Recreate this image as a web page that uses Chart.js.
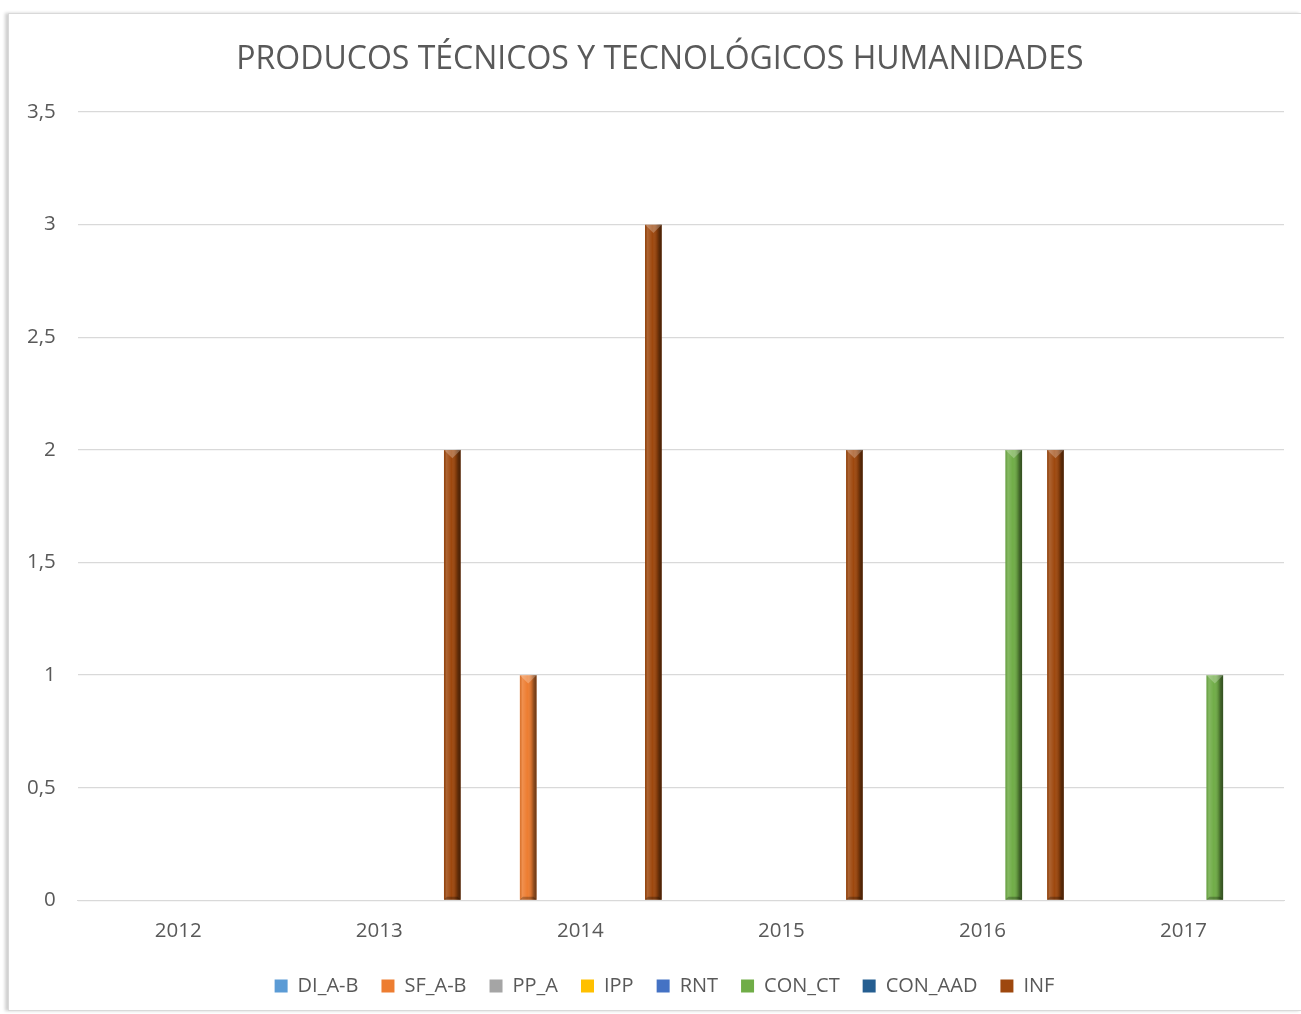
<!DOCTYPE html>
<html>
<head>
<meta charset="utf-8">
<script src="https://cdn.jsdelivr.net/npm/chart.js@4"></script>
<style>
  html, body { margin: 0; padding: 0; background: #fff; }
  #frame {
    position: absolute; left: 8px; top: 13px; width: 1292px; height: 996px;
    border: 1px solid #d9d9d9; box-shadow: -3px 0 3px #d0d0d0; background: #fff;
  }
  #wrap { position: absolute; left: 0; top: 0; width: 1292px; height: 996px; }
</style>
</head>
<body>
<div id="frame"><div id="wrap"><canvas id="c"></canvas></div></div>
<script>
const title = 'PRODUCOS TÉCNICOS Y TECNOLÓGICOS HUMANIDADES';
const years = ['2012', '2013', '2014', '2015', '2016', '2017'];
const seriesNames = ['DI_A-B', 'SF_A-B', 'PP_A', 'IPP', 'RNT', 'CON_CT', 'CON_AAD', 'INF'];
const seriesColors = ['#5B9BD5', '#ED7D31', '#A5A5A5', '#FFC000', '#4472C4', '#70AD47', '#255E91', '#9E480E'];
const DI_A_B  = [0, 0, 0, 0, 0, 0];
const SF_A_B  = [0, 0, 1, 0, 0, 0];
const PP_A    = [0, 0, 0, 0, 0, 0];
const IPP     = [0, 0, 0, 0, 0, 0];
const RNT     = [0, 0, 0, 0, 0, 0];
const CON_CT  = [0, 0, 0, 0, 2, 1];
const CON_AAD = [0, 0, 0, 0, 0, 0];
const INF     = [0, 2, 3, 2, 2, 0];
const seriesValues = [DI_A_B, SF_A_B, PP_A, IPP, RNT, CON_CT, CON_AAD, INF];

const textColor = '#595959';
const fontFamily = "'Open Sans', 'Noto Sans', sans-serif";

// Title drawn centred on the whole frame (space reserved by layout padding)
const titlePlugin = {
  id: 'centredTitle',
  afterDraw(chart) {
    const ctx = chart.ctx;
    ctx.save();
    ctx.font = "normal 32px " + fontFamily;
    ctx.fillStyle = textColor;
    ctx.textAlign = 'center';
    ctx.textBaseline = 'middle';
    ctx.fillText(title, chart.width / 2 + 5, 46);
    ctx.restore();
  }
};

// Nudge the legend so it is centred like the original
const legendShift = {
  id: 'legendShift',
  afterLayout(chart) {
    if (chart.legend) { chart.legend.left += 20; chart.legend.right += 20; }
  }
};

const bevel = {
  id: 'bevel',
  afterDatasetsDraw(chart) {
    const ctx = chart.ctx;
    chart.data.datasets.forEach((ds, di) => {
      const meta = chart.getDatasetMeta(di);
      if (meta.hidden) return;
      meta.data.forEach((bar) => {
        const h = bar.base - bar.y;
        if (h <= 0.5) return;
        const l = bar.x - bar.width / 2, r = bar.x + bar.width / 2, w = bar.width;
        ctx.save();
        const g = ctx.createLinearGradient(l, 0, r, 0);
        g.addColorStop(0, 'rgba(0,0,0,0.08)');
        g.addColorStop(0.15, 'rgba(255,255,255,0.15)');
        g.addColorStop(0.45, 'rgba(255,255,255,0.0)');
        g.addColorStop(0.7, 'rgba(0,0,0,0.15)');
        g.addColorStop(0.85, 'rgba(0,0,0,0.42)');
        g.addColorStop(1, 'rgba(0,0,0,0.55)');
        ctx.fillStyle = g;
        ctx.fillRect(l, bar.y, w, h);
        ctx.beginPath();
        ctx.moveTo(l, bar.y);
        ctx.lineTo(r, bar.y);
        ctx.lineTo(bar.x, bar.y + w * 0.5);
        ctx.closePath();
        ctx.fillStyle = 'rgba(255,255,255,0.25)';
        ctx.fill();
        ctx.beginPath();
        ctx.moveTo(l, bar.base);
        ctx.lineTo(r, bar.base);
        ctx.lineTo(r - 3, bar.base - 3);
        ctx.lineTo(l + 3, bar.base - 3);
        ctx.closePath();
        ctx.fillStyle = 'rgba(0,0,0,0.25)';
        ctx.fill();
        ctx.restore();
      });
    });
  }
};

new Chart(document.getElementById('c'), {
  type: 'bar',
  data: {
    labels: years,
    datasets: seriesNames.map((name, i) => ({
      label: name,
      data: seriesValues[i],
      backgroundColor: seriesColors[i],
      borderWidth: 0,
      categoryPercentage: 0.83,
      barPercentage: 0.8
    }))
  },
  options: {
    responsive: true,
    maintainAspectRatio: false,
    animation: false,
    layout: { padding: { left: -4, right: 17, top: 98, bottom: 4 } },
    plugins: {
      title: { display: false },
      legend: {
        position: 'bottom',
        labels: {
          color: textColor, boxWidth: 13, boxHeight: 13, padding: 23,
          font: { family: fontFamily, size: 20 }
        }
      },
      tooltip: { enabled: false }
    },
    scales: {
      x: {
        grid: { display: false },
        border: { display: true, color: '#d9d9d9' },
        ticks: { color: textColor, font: { family: fontFamily, size: 20.5 }, padding: 10 }
      },
      y: {
        min: 0, max: 3.5,
        grid: { color: '#d9d9d9', drawTicks: false, lineWidth: 1.3 },
        border: { display: false },
        ticks: {
          stepSize: 0.5, color: textColor, padding: 22,
          font: { family: fontFamily, size: 20.5 },
          callback: (v) => String(v).replace('.', ',')
        }
      }
    }
  },
  plugins: [bevel, titlePlugin, legendShift]
});
</script>
</body>
</html>
